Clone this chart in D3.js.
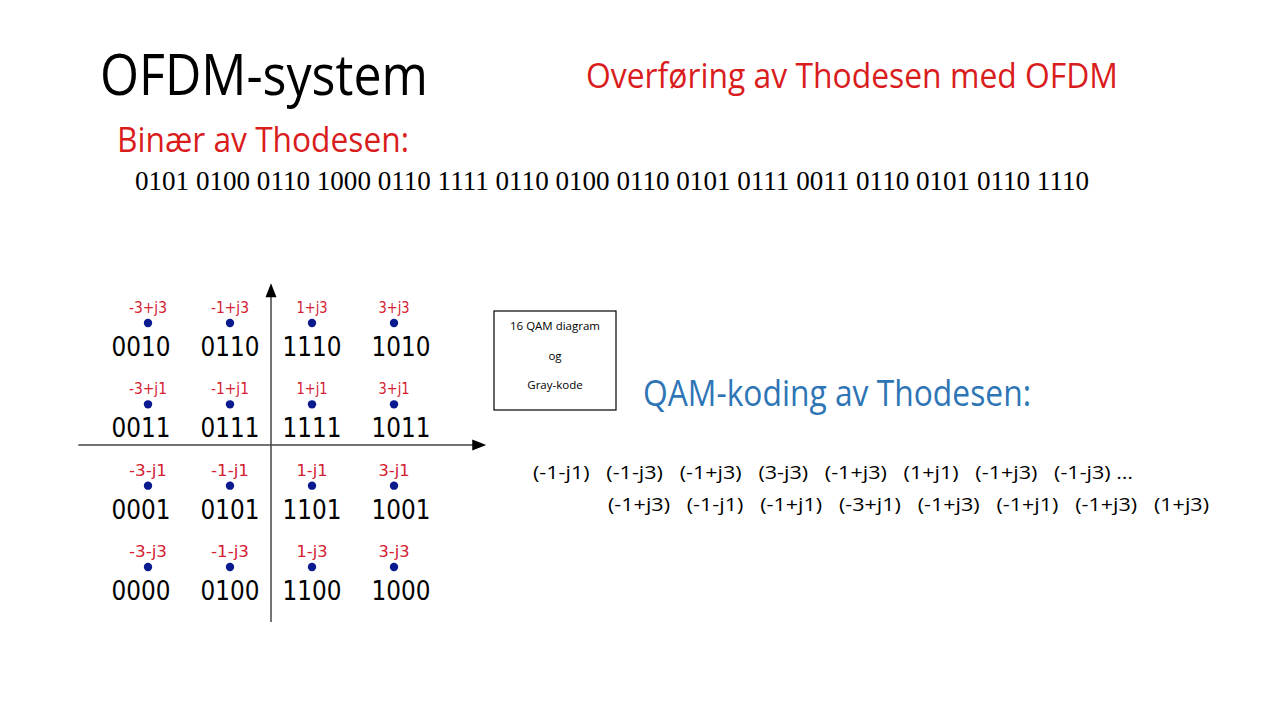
<!DOCTYPE html>
<html>
<head>
<meta charset="utf-8">
<style>
body { margin: 0; background: #fff; }
text { font-family: "Open Sans", "Noto Sans", sans-serif; }
</style>
</head>
<body>
<svg id="chart" width="1280" height="720" viewBox="0 0 1280 720"></svg>
<script src="https://d3js.org/d3.v7.min.js"></script>
<script>

// constellation levels and gray codes (rows top to bottom)
const iLevels = [-3, -1, 1, 3];
const qLevels = [3, 1, -1, -3];
const grayCodes = [
    ["0010", "0110", "1110", "1010"],
    ["0011", "0111", "1111", "1011"],
    ["0001", "0101", "1101", "1001"],
    ["0000", "0100", "1100", "1000"]
];

const binaryGroups = ["0101", "0100", "0110", "1000", "0110", "1111", "0110", "0100",
    "0110", "0101", "0111", "0011", "0110", "0101", "0110", "1110"];

const qamLine1 = ["(-1-j1)", "(-1-j3)", "(-1+j3)", "(3-j3)", "(-1+j3)", "(1+j1)", "(-1+j3)", "(-1-j3) \u2026"];
const qamLine2 = ["(-1+j3)", "(-1-j1)", "(-1+j1)", "(-3+j1)", "(-1+j3)", "(-1+j1)", "(-1+j3)", "(1+j3)"];

const red = "#d91c1c";
const svg = d3.select("#chart");

// titles
svg.append("text").attr("x", 100).attr("y", 95)
    .attr("font-size", 56).attr("fill", "#000")
    .attr("textLength", 328).attr("lengthAdjust", "spacingAndGlyphs")
    .text("OFDM-system");

svg.append("text").attr("x", 586).attr("y", 88)
    .attr("font-size", 34).attr("fill", red)
    .attr("textLength", 532).attr("lengthAdjust", "spacingAndGlyphs")
    .text("Overføring av Thodesen med OFDM");

svg.append("text").attr("x", 117).attr("y", 152)
    .attr("font-size", 34).attr("fill", red)
    .attr("textLength", 292).attr("lengthAdjust", "spacingAndGlyphs")
    .text("Binær av Thodesen:");

svg.append("text").attr("x", 135).attr("y", 190)
    .style("font-family", "'Liberation Serif', 'DejaVu Serif', serif")
    .attr("font-size", 27).attr("fill", "#000")
    .attr("textLength", 954).attr("lengthAdjust", "spacingAndGlyphs")
    .text(binaryGroups.join(" "));

// constellation
let x = d3.scaleLinear().domain([-3, 3]).range([148, 394]);
let y = d3.scaleLinear().domain([-3, 3]).range([567, 323]);

let axisG = svg.append("g");
axisG.append("line")
    .attr("x1", x(-4.7)).attr("x2", x(5.0))
    .attr("y1", y(0)).attr("y2", y(0))
    .attr("stroke", "#444").attr("stroke-width", 1.5);
axisG.append("line")
    .attr("x1", x(0)).attr("x2", x(0))
    .attr("y1", y(-4.35)).attr("y2", y(3.7))
    .attr("stroke", "#444").attr("stroke-width", 1.5);
// arrow heads
let xt = x(5.25), yt = y(3.98);
axisG.append("path")
    .attr("d", `M${xt},${y(0)} L${xt - 14},${y(0) - 5.5} L${xt - 14},${y(0) + 5.5} Z`)
    .attr("fill", "#000");
axisG.append("path")
    .attr("d", `M${x(0)},${yt} L${x(0) - 5.5},${yt + 14} L${x(0) + 5.5},${yt + 14} Z`)
    .attr("fill", "#000");

let points = [];
qLevels.forEach((q, r) => {
    iLevels.forEach((i, c) => {
        points.push({ i: i, q: q, code: grayCodes[r][c] });
    });
});

function symLabel(d) {
    return d.i + (d.q < 0 ? "-j" : "+j") + Math.abs(d.q);
}

let pt = svg.append("g").selectAll("g")
    .data(points)
    .join("g")
    .attr("transform", d => `translate(${x(d.i)},${y(d.q)})`);

pt.append("circle").attr("r", 4.2).attr("fill", "#0b1a8f");

pt.append("text")
    .attr("y", -10).attr("text-anchor", "middle")
    .style("font-family", "'DejaVu Sans', Verdana, sans-serif")
    .attr("font-size", 15).attr("fill", "#d42030")
    .attr("textLength", d => d.i < 0 ? 38 : 31).attr("lengthAdjust", "spacingAndGlyphs")
    .text(symLabel);

// outer columns of codes sit a bit further out than the dots
pt.append("text")
    .attr("x", d => Math.abs(d.i) === 3 ? Math.sign(d.i) * 7 : 0)
    .attr("y", 33).attr("text-anchor", "middle")
    .style("font-family", "'DejaVu Sans', Verdana, sans-serif")
    .attr("font-size", 27).attr("fill", "#000")
    .attr("textLength", 59).attr("lengthAdjust", "spacingAndGlyphs")
    .text(d => d.code);

// legend box
let box = svg.append("g").attr("transform", "translate(494,311)");
box.append("rect").attr("width", 122).attr("height", 99)
    .attr("fill", "none").attr("stroke", "#000").attr("stroke-width", 1.2);
["16 QAM diagram", "og", "Gray-kode"].forEach((t, k) => {
    box.append("text")
        .attr("x", 61).attr("y", 19 + k * 29.5)
        .attr("text-anchor", "middle")
        .attr("font-size", 11.5).attr("fill", "#000")
        .text(t);
});

// QAM coding
svg.append("text").attr("x", 643).attr("y", 406)
    .attr("font-size", 36).attr("fill", "#2e75b6")
    .attr("textLength", 388).attr("lengthAdjust", "spacingAndGlyphs")
    .text("QAM-koding av Thodesen:");

svg.append("text").attr("x", 533).attr("y", 479)
    .attr("xml:space", "preserve")
    .attr("font-size", 19).attr("fill", "#000")
    .attr("textLength", 600).attr("lengthAdjust", "spacingAndGlyphs")
    .text(qamLine1.join("   "));

svg.append("text").attr("x", 608).attr("y", 511)
    .attr("xml:space", "preserve")
    .attr("font-size", 19).attr("fill", "#000")
    .attr("textLength", 601).attr("lengthAdjust", "spacingAndGlyphs")
    .text(qamLine2.join("   "));

</script>
</body>
</html>
